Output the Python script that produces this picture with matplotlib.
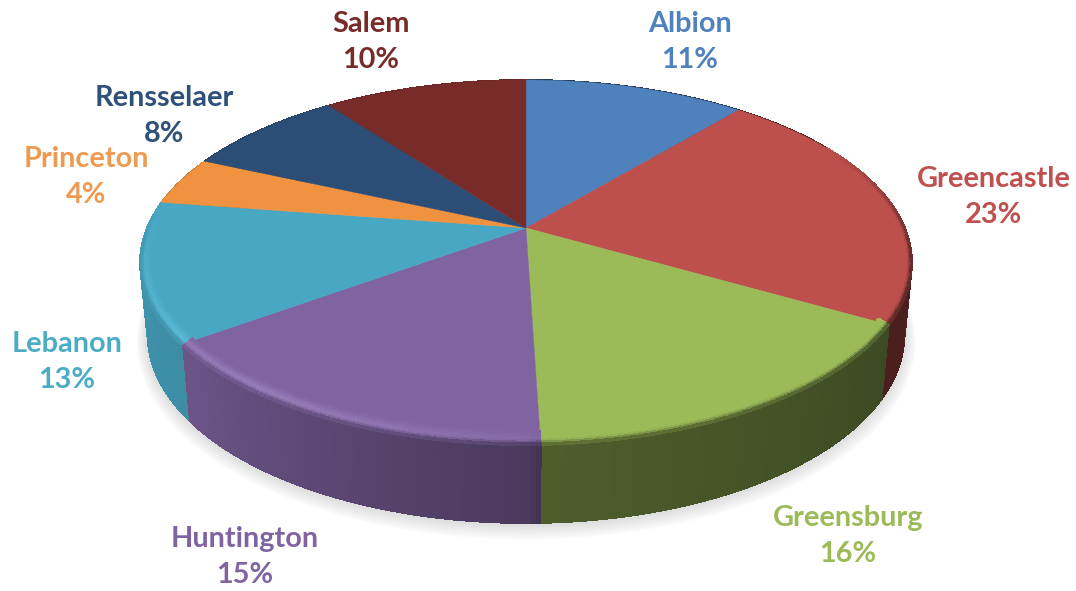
import numpy as np
import matplotlib
matplotlib.use("Agg")
import matplotlib.pyplot as plt
from matplotlib.collections import PolyCollection
from matplotlib.patches import Polygon

# ---- data
categories = ["Albion", "Greencastle", "Greensburg", "Huntington",
              "Lebanon", "Princeton", "Rensselaer", "Salem"]
percent_labels = ["11%", "23%", "16%", "15%", "13%", "4%", "8%", "10%"]
# drawn share of each slice, as measured from the slice boundaries
slice_shares = [11.1, 22.2, 16.2, 15.5, 12.4, 4.3, 8.1, 10.2]

# ---- styling and layout
colors = ["#4f81bd", "#bd4f4c", "#9bbb59", "#8064a2",
          "#48a8c4", "#f0923f", "#2c4d75", "#772c2a"]
text_colors = ["#4f81bd", "#c0504d", "#9bbb59", "#8064a2",
               "#4bacc6", "#ee9a50", "#2f5078", "#772c2a"]
label_centres = [(690, 42), (994, 197), (848, 536), (245, 557),
                 (67, 362), (86, 177), (164, 116), (371, 42)]

APEX = np.array([526.0, 228.0])
A, B, K = 379.0, 176.0, 0.189      # perspective of the disc
BOTTOM_SX, BOTTOM_SY, DEPTH = 0.98, 1.03, 71.5

SHADE_T = [0, 60, 120, 178, 180, 233, 270, 360]
SHADE_V = [0.45, 0.45, 0.39, 0.50, 0.58, 0.84, 0.88, 0.88]
HI_T = [0, 178, 180, 215, 233, 250, 275, 360]
HI_V = [0, 0, 0.03, 0.10, 0.08, 0.04, 0, 0]
BAND_T = [0, 60, 100, 266, 277, 360]
BAND_V = [0, 0, 1, 1, 0, 0]


def project(theta_deg, sx=1.0, sy=1.0, drop=0.0):
    th = np.radians(theta_deg)
    u, v = np.sin(th), np.cos(th)
    w = 1 + K * v
    return APEX[0] + sx * A * u / w, APEX[1] - sy * B * v / w + drop


def rgb(c):
    return np.array(matplotlib.colors.to_rgb(c))


fig = plt.figure(figsize=(10.76, 5.91), dpi=100)
ax = fig.add_axes([0, 0, 1, 1])
ax.set_xlim(0, 1076)
ax.set_ylim(591, 0)
ax.axis("off")

# soft shadow below the disc
ring = np.linspace(0, 360, 361)
for i in range(12):
    g = i * 1.0
    x, y = project(ring, BOTTOM_SX + g / 386, BOTTOM_SY + g / 217, DEPTH + g * 0.5)
    ax.add_patch(Polygon(np.c_[x, y], closed=True, facecolor="#606060",
                         edgecolor="none", alpha=0.018, zorder=1))

edges = np.r_[0, np.cumsum(slice_shares)] / np.sum(slice_shares) * 360

wall_quads, wall_fc = [], []
rim_quads, rim_fc = [], []
for i, col in enumerate(colors):
    base = rgb(col)
    th = np.linspace(edges[i], edges[i + 1], max(4, int((edges[i + 1] - edges[i]) * 1.5)))
    # top face
    x, y = project(th)
    ax.add_patch(Polygon(np.r_[[APEX], np.c_[x, y]], closed=True, facecolor=col,
                         edgecolor=col, linewidth=0.3, zorder=4))
    for a, b in zip(th[:-1], th[1:]):
        mid = (a + b) / 2
        wall = base * np.interp(mid, SHADE_T, SHADE_V)
        # side wall
        wall_quads.append([project(a), project(b),
                           project(b, BOTTOM_SX, BOTTOM_SY, DEPTH),
                           project(a, BOTTOM_SX, BOTTOM_SY, DEPTH)])
        wall_fc.append(np.clip(wall, 0, 1))
        # rounded rim on the top face
        hi = np.clip(base + np.interp(mid, HI_T, HI_V), 0, 1)
        weight = np.interp(mid, BAND_T, BAND_V)
        if weight <= 0:
            continue
        n = 8
        for k in range(n):
            s0, s1 = k / n, (k + 1) / n
            s = (s0 + s1) / 2
            if s < 0.6:
                c = base + (hi - base) * s / 0.6
            else:
                c = hi + (wall - hi) * ((s - 0.6) / 0.4) ** 1.5 * weight
            wx0, wy0 = 1 - 0.028 * (1 - s0), 1 - 0.065 * (1 - s0)
            wx1, wy1 = 1 - 0.028 * (1 - s1), 1 - 0.065 * (1 - s1)
            rim_quads.append([project(a, wx0, wy0), project(b, wx0, wy0),
                              project(b, wx1, wy1), project(a, wx1, wy1)])
            rim_fc.append(np.clip(c, 0, 1))

ax.add_collection(PolyCollection(wall_quads, facecolors=wall_fc, edgecolors=wall_fc,
                                 linewidths=0.6, antialiaseds=False, zorder=3))
ax.add_collection(PolyCollection(rim_quads, facecolors=rim_fc, edgecolors=rim_fc,
                                 linewidths=0.6, antialiaseds=False, zorder=5))

for name, pct, tc, (cx, cy) in zip(categories, percent_labels, text_colors, label_centres):
    ax.text(cx, cy, f"{name}\n{pct}", ha="center", va="center", color=tc,
            family="Lato", fontweight="bold", fontsize=20.8, linespacing=1.46, zorder=6)

fig.savefig("out.png", dpi=100)
